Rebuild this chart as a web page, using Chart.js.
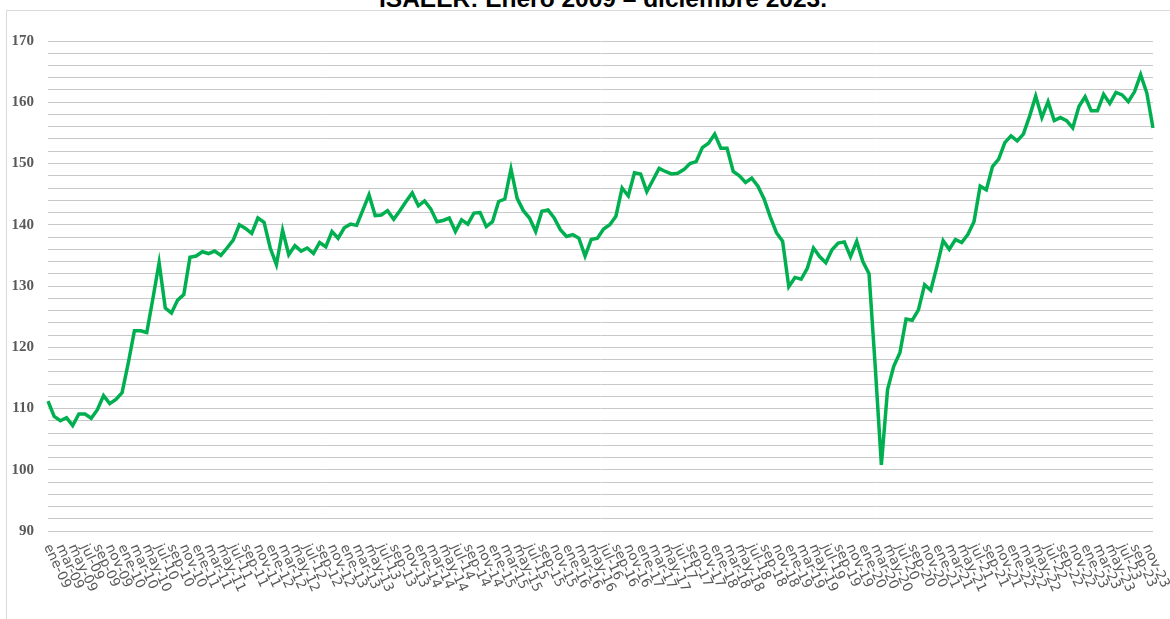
<!DOCTYPE html>
<html>
<head>
<meta charset="utf-8">
<script src="https://cdn.jsdelivr.net/npm/chart.js@4"></script>
<style>
  html, body { margin: 0; padding: 0; background: #fff; overflow: hidden; }
  #wrap { position: relative; width: 1170px; height: 619px; }
  #frame { position: absolute; left: 6px; top: 10px; width: 1200px; height: 700px;
           border-left: 1px solid #d9d9d9; border-top: 1px solid #d9d9d9; }
  #title { position: absolute; left: 0; width: 1206px; top: -15px; line-height: 24px;
           text-align: center; font: bold 24.5px "Liberation Sans", Arial, sans-serif; color: #000; }
  canvas { position: absolute; left: 0; top: 0; }
</style>
</head>
<body>
<div id="wrap">
  <div id="frame"></div>
  <div id="title">ISAEER: Enero 2009 – diciembre 2023.</div>
  <canvas id="myChart"></canvas>
</div>
<script>
// month names and years used for the category axis
const months = ['ene', 'feb', 'mar', 'abr', 'may', 'jun', 'jul', 'ago', 'sep', 'oct', 'nov', 'dic'];
const years = ['09', '10', '11', '12', '13', '14', '15', '16', '17', '18', '19', '20', '21', '22', '23'];

// ISAEER index, monthly, ene-09 .. dic-23
const isaeer = [
    111.2, 108.7, 108.0, 108.5, 107.2, 109.1, 109.1, 108.4, 109.8, 112.1, 110.8, 111.5,
    112.6, 117.4, 122.7, 122.7, 122.4, 128.0, 133.8, 126.4, 125.6, 127.7, 128.6, 134.7,
    134.9, 135.6, 135.3, 135.7, 135.0, 136.2, 137.5, 140.0, 139.4, 138.6, 141.1, 140.4,
    136.2, 133.5, 139.1, 135.1, 136.6, 135.7, 136.2, 135.3, 137.1, 136.4, 138.9, 137.8,
    139.5, 140.1, 139.9, 142.4, 144.9, 141.5, 141.6, 142.3, 140.9, 142.3, 143.8, 145.2,
    143.1, 143.9, 142.6, 140.5, 140.7, 141.1, 138.9, 140.8, 140.1, 141.9, 142.0, 139.7,
    140.5, 143.8, 144.2, 149.1, 144.3, 142.3, 141.1, 138.9, 142.2, 142.4, 141.1, 139.2,
    138.1, 138.4, 137.8, 134.9, 137.6, 137.8, 139.3, 140.0, 141.4, 146.0, 144.7, 148.5,
    148.3, 145.4, 147.3, 149.2, 148.7, 148.3, 148.4, 149.0, 150.0, 150.3, 152.6, 153.3,
    154.8, 152.5, 152.5, 148.7, 148.0, 146.9, 147.6, 146.3, 144.2, 141.3, 138.7, 137.3,
    129.9, 131.4, 131.1, 132.9, 136.2, 134.8, 133.8, 135.9, 137.0, 137.2, 134.8, 137.3,
    134.0, 132.0, 116.9, 100.8, 113.1, 116.9, 119.1, 124.6, 124.4, 126.1, 130.2, 129.3,
    133.2, 137.4, 136.0, 137.6, 137.1, 138.4, 140.5, 146.3, 145.7, 149.5, 150.7, 153.4,
    154.5, 153.7, 154.8, 157.7, 161.0, 157.5, 160.1, 157.0, 157.5, 157.0, 155.8, 159.3,
    160.9, 158.6, 158.6, 161.3, 159.8, 161.6, 161.2, 160.1, 161.7, 164.5, 161.5, 155.8
];

const labels = [];
years.forEach(y => months.forEach(m => labels.push(m + '-' + y)));

// x labels read downward to the right, one every two months
const slantedLabels = {
    id: 'slantedLabels',
    afterDraw(chart) {
        const { ctx, scales: { x } } = chart;
        ctx.save();
        ctx.font = '13.5px "DejaVu Sans"';
        ctx.fillStyle = '#595959';
        ctx.textAlign = 'left';
        ctx.textBaseline = 'middle';
        labels.forEach((lab, i) => {
            if (i % 2) return;
            ctx.save();
            ctx.translate(x.getPixelForValue(i) - 1, 545);
            ctx.rotate(65 * Math.PI / 180);
            ctx.fillText(lab, 0, 0);
            ctx.restore();
        });
        ctx.restore();
    }
};

const ctx = document.getElementById('myChart').getContext('2d');
new Chart(ctx, {
    type: 'line',
    data: {
        labels: labels,
        datasets: [{
            label: 'ISAEER',
            data: isaeer,
            borderColor: '#00B050',
            borderWidth: 3.5,
            pointRadius: 0,
            tension: 0,
            fill: false
        }]
    },
    options: {
        responsive: true,
        maintainAspectRatio: false,
        animation: false,
        layout: { padding: { left: 0, right: 17, top: 41, bottom: 88 } },
        plugins: {
            legend: { display: false },
            tooltip: { enabled: false }
        },
        scales: {
            x: {
                display: false,
                offset: false
            },
            y: {
                min: 90,
                max: 170,
                afterFit: (scale) => { scale.width = 48; },
                border: { display: false },
                grid: { color: '#c8c8c8', lineWidth: 1, drawTicks: false },
                ticks: {
                    stepSize: 2,
                    autoSkip: false,
                    padding: 14,
                    color: '#595959',
                    font: { family: '"Liberation Serif"', size: 15, weight: 'bold' },
                    callback: (v) => (v % 10 === 0 ? v : '')
                }
            }
        }
    },
    plugins: [slantedLabels]
});
</script>
</body>
</html>
